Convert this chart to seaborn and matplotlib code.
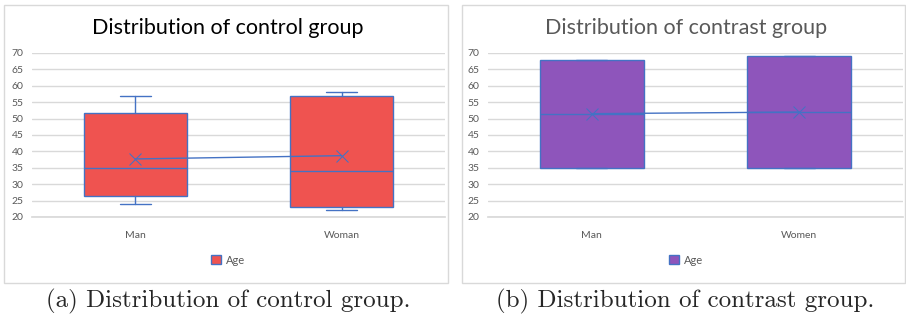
import matplotlib
matplotlib.use("Agg")
import matplotlib.pyplot as plt
from matplotlib.patches import Rectangle, Patch
import seaborn as sns

# box statistics (age)
control_cats = ["Man", "Woman"]
control_low = [24, 22]
control_q1 = [26.5, 23]
control_med = [35, 34]
control_q3 = [51.7, 57]
control_high = [57, 58]
control_mean = [37.7, 38.7]

contrast_cats = ["Man", "Women"]
contrast_low = [35, 35]
contrast_q1 = [35, 35]
contrast_med = [51.5, 52]
contrast_q3 = [68, 69]
contrast_high = [68, 69]
contrast_mean = [51.5, 52]

yticks = list(range(20, 75, 5))

sns.set_theme(style="white")
plt.rcParams["font.family"] = ["Lato", "DejaVu Sans"]

W, H = 906, 320
fig = plt.figure(figsize=(W / 100, H / 100), dpi=100)

edge = "#4472c4"


def px_axes(x0, y0, x1, y1):
    return fig.add_axes([x0 / W, 1 - y1 / H, (x1 - x0) / W, (y1 - y0) / H])


def frame(x0, y0, x1, y1):
    fig.patches.append(Rectangle((x0 / W, 1 - y1 / H), (x1 - x0) / W, (y1 - y0) / H,
                                 transform=fig.transFigure, fill=False,
                                 edgecolor="#d9d9d9", linewidth=1))


def panel(ax, cats, lo, q1, med, q3, hi, mean, fill, title, title_color, cx):
    stats = [dict(whislo=lo[i], q1=q1[i], med=med[i], q3=q3[i], whishi=hi[i], label=cats[i])
             for i in range(len(cats))]
    ax.bxp(stats, positions=[0, 1], widths=0.5, capwidths=0.15, patch_artist=True,
           showfliers=False,
           boxprops=dict(facecolor=fill, edgecolor=edge, linewidth=1),
           medianprops=dict(color=edge, linewidth=1),
           whiskerprops=dict(color=edge, linewidth=1),
           capprops=dict(color=edge, linewidth=1), zorder=3)
    sns.pointplot(x=cats, y=mean, ax=ax, color=edge, markers="x", linewidth=1,
                  markersize=8, zorder=4)
    ax.set_xlim(-0.5, 1.5)
    ax.set_ylim(20, 70)
    ax.set_yticks(yticks)
    ax.set_xticks([0, 1])
    ax.set_xticklabels(cats)
    ax.tick_params(axis="both", length=0, labelsize=7.5, labelcolor="#595959")
    ax.tick_params(axis="x", pad=10)
    ax.tick_params(axis="y", pad=6)
    ax.grid(axis="y", color="#d9d9d9", linewidth=1, zorder=0)
    ax.set_axisbelow(True)
    for s in ["top", "right", "left"]:
        ax.spines[s].set_visible(False)
    ax.spines["bottom"].set_color("#d9d9d9")
    ax.set_xlabel("")
    ax.set_ylabel("")
    fig.text(cx / W, 1 - 28 / H, title, ha="center", va="center", fontsize=15.5,
             color=title_color)
    fig.legend(handles=[Patch(facecolor=fill, edgecolor=edge, label="Age")],
               loc="center", bbox_to_anchor=(cx / W, 1 - 260 / H), frameon=False,
               fontsize=8, handlelength=0.9, handleheight=0.9, handletextpad=0.4,
               labelcolor="#595959")


frame(4, 5, 448, 283)
frame(462, 5, 905, 283)

ax1 = px_axes(32, 53, 445, 217)
panel(ax1, control_cats, control_low, control_q1, control_med, control_q3, control_high,
      control_mean, "#ef5350", "Distribution of control group", "#000000", 228)

ax2 = px_axes(488, 53, 903, 217)
panel(ax2, contrast_cats, contrast_low, contrast_q1, contrast_med, contrast_q3,
      contrast_high, contrast_mean, "#8e55bb", "Distribution of contrast group", "#595959", 686)

fig.text(228 / W, 1 - 301 / H, "(a) Distribution of control group.", ha="center",
         va="center", fontsize=18, family=["cmr10", "DejaVu Serif"])
fig.text(685 / W, 1 - 301 / H, "(b) Distribution of contrast group.", ha="center",
         va="center", fontsize=18, family=["cmr10", "DejaVu Serif"])

fig.savefig("out.png", dpi=100)
